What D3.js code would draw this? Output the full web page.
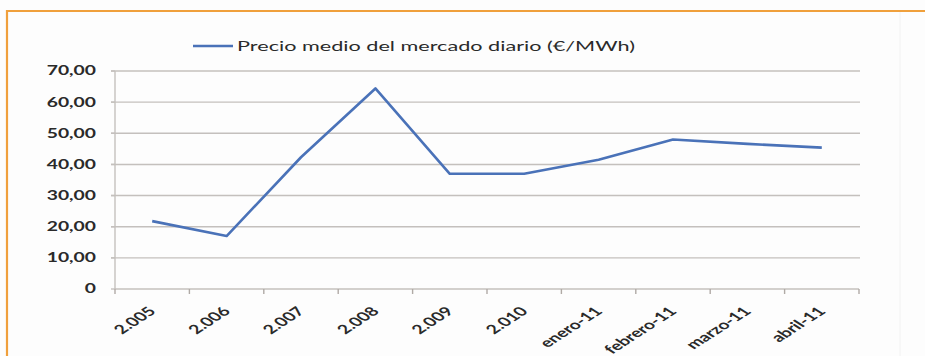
<!DOCTYPE html>
<html>
<head>
<meta charset="utf-8">
<script src="https://cdn.jsdelivr.net/npm/d3@7"></script>
<style>
  html, body { margin: 0; padding: 0; background: #fdfdfd; }
  svg { display: block; }
  text { font-family: Lato, "Open Sans", sans-serif; fill: #2a2a2a; }
</style>
</head>
<body>
<svg id="chart" width="925" height="356"></svg>
<script>
// Precio medio del mercado diario, €/MWh
const categories = ["2.005", "2.006", "2.007", "2.008", "2.009", "2.010",
                    "enero-11", "febrero-11", "marzo-11", "abril-11"];
const precio = [21.8, 17.0, 42.3, 64.4, 37.0, 37.0, 41.5, 48.0, 46.6, 45.4];
const yTicks = [0, 10, 20, 30, 40, 50, 60, 70];
const seriesName = "Precio medio del mercado diario (€/MWh)";

const svg = d3.select("#chart");
const W = 925, H = 356;
const plot = { left: 115, right: 859, top: 71, bottom: 289 };
const axisFont = 12.5;
const gridColor = "#c4c0bd";
const lineColor = "#4a72b8";

// frame
svg.append("rect").attr("width", W).attr("height", H).attr("fill", "#fdfdfd");
svg.append("line").attr("x1", 6).attr("x2", W).attr("y1", 11).attr("y2", 11)
  .attr("stroke", "#f0a03c").attr("stroke-width", 2.2);
svg.append("line").attr("x1", 7).attr("x2", 7).attr("y1", 10).attr("y2", H)
  .attr("stroke", "#f0a03c").attr("stroke-width", 2.2);
svg.append("line").attr("x1", 900).attr("x2", 900).attr("y1", 12).attr("y2", H)
  .attr("stroke", "#f2f2f2").attr("stroke-width", 1);

// legend (measured first: its width sets the horizontal text stretch)
svg.append("line").attr("x1", 193).attr("x2", 233).attr("y1", 46).attr("y2", 46)
  .attr("stroke", lineColor).attr("stroke-width", 2.6);
const lt = svg.append("text").attr("dy", "0.35em")
  .attr("font-size", 14).text(seriesName);
const legendWidth = 398;
const sx = Math.min(1.7, Math.max(1, legendWidth / lt.node().getComputedTextLength()));
lt.attr("transform", `translate(237,46) scale(${sx},1)`);

const x = d3.scaleBand().domain(categories).range([plot.left, plot.right]);
const y = d3.scaleLinear().domain([0, 70]).range([plot.bottom, plot.top]);

// horizontal gridlines
svg.append("g").selectAll("line").data(yTicks.filter(d => d > 0)).join("line")
  .attr("x1", plot.left - 4).attr("x2", plot.right + 1)
  .attr("y1", d => y(d)).attr("y2", d => y(d))
  .attr("stroke", gridColor).attr("stroke-width", 1.4);

// y axis: line, tick marks, labels
const gy = svg.append("g");
gy.append("line").attr("x1", plot.left).attr("x2", plot.left)
  .attr("y1", plot.top).attr("y2", plot.bottom)
  .attr("stroke", gridColor).attr("stroke-width", 1.4);
gy.selectAll("line.tk").data(yTicks).join("line").attr("class", "tk")
  .attr("x1", plot.left - 4).attr("x2", plot.left)
  .attr("y1", d => y(d)).attr("y2", d => y(d))
  .attr("stroke", gridColor).attr("stroke-width", 1.4);
const yFmt = d => d === 0 ? "0" : d3.format(".2f")(d).replace(".", ",");
gy.selectAll("text").data(yTicks).join("text")
  .attr("transform", d => `translate(96,${y(d)}) scale(${sx},1)`)
  .attr("text-anchor", "end").attr("dy", "0.35em")
  .attr("font-size", axisFont).attr("font-weight", 700)
  .text(yFmt);

// x axis with ticks on band boundaries
const xAxisG = svg.append("g").attr("transform", `translate(0,${plot.bottom})`);
xAxisG.append("line").attr("x1", plot.left).attr("x2", plot.right)
  .attr("stroke", gridColor).attr("stroke-width", 1.4);
const bounds = categories.map(c => x(c)).concat([plot.right]);
xAxisG.selectAll("line.tk").data(bounds).join("line").attr("class", "tk")
  .attr("x1", d => d).attr("x2", d => d).attr("y1", 0).attr("y2", 5)
  .attr("stroke", "#b0aaa6").attr("stroke-width", 1.4);
xAxisG.selectAll("text").data(categories).join("text")
  .attr("transform", d =>
    `translate(${x(d) + x.bandwidth() / 2},${20}) scale(${sx},1) rotate(-45)`)
  .attr("text-anchor", "end").attr("dy", "0.35em")
  .attr("font-size", axisFont).attr("font-weight", 700)
  .text(d => d);

// line series
const line = d3.line()
  .x((d, i) => x(categories[i]) + x.bandwidth() / 2)
  .y(d => y(d));
svg.append("path").datum(precio).attr("d", line)
  .attr("fill", "none").attr("stroke", lineColor).attr("stroke-width", 2.6)
  .attr("stroke-linejoin", "round");
</script>
</body>
</html>
